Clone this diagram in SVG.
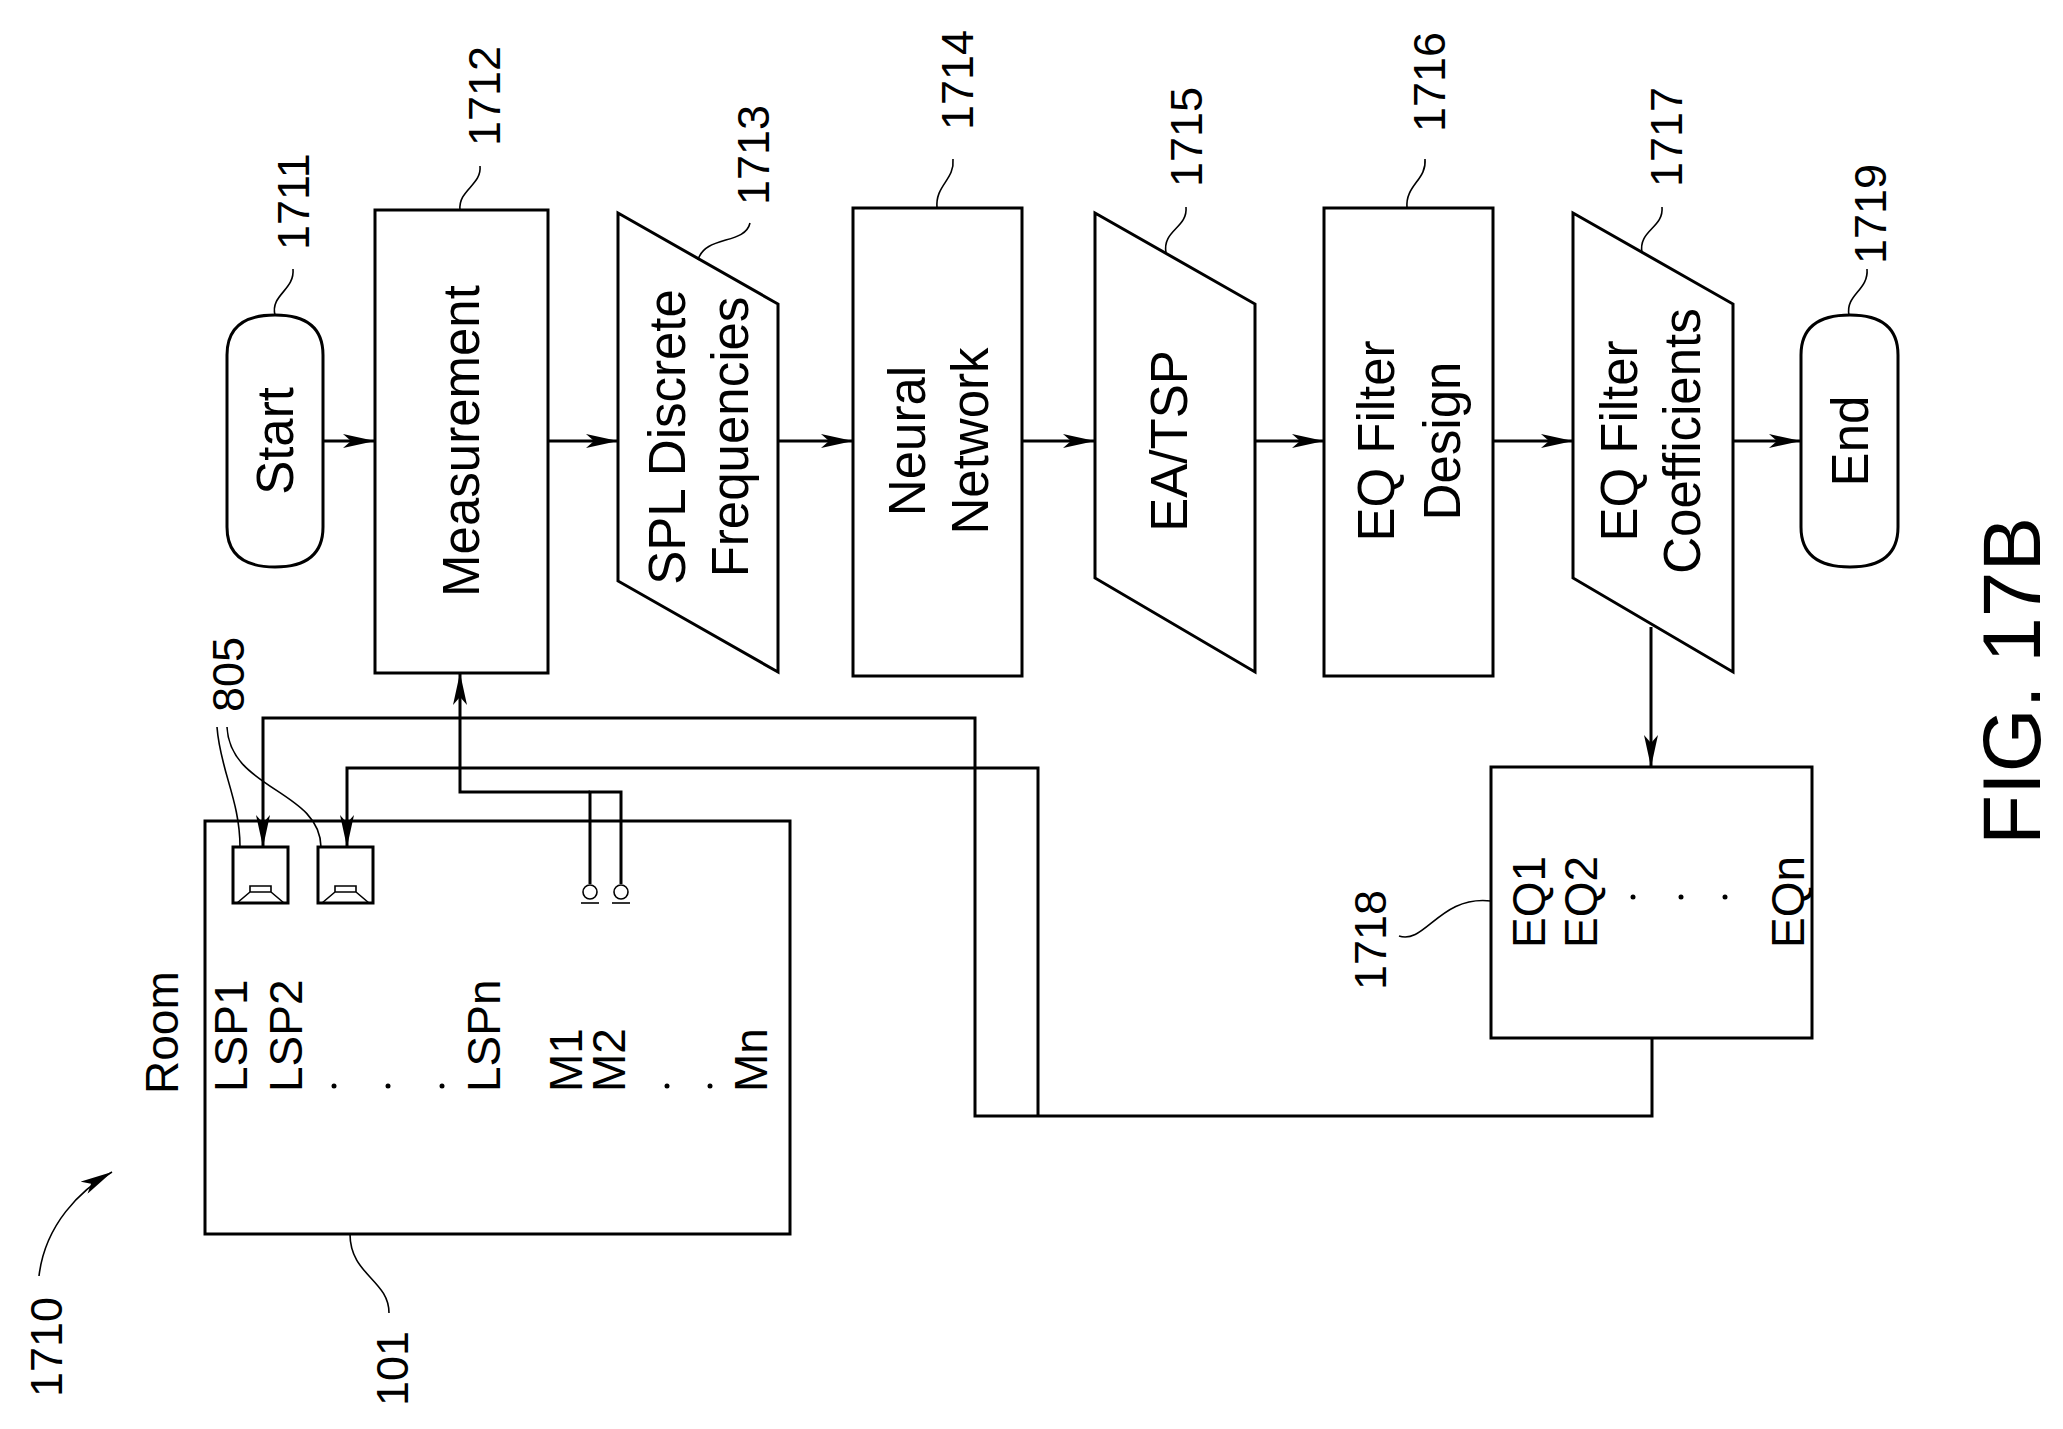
<svg xmlns="http://www.w3.org/2000/svg" width="2063" height="1429" viewBox="0 0 2063 1429">
<style>
.s{fill:#fff;stroke:#000;stroke-width:3}
.c{fill:none;stroke:#000;stroke-width:3}
.l{fill:none;stroke:#000;stroke-width:1.6}
text{font-family:"Liberation Sans",Arial,sans-serif;fill:#000}
.t{font-size:51px;text-anchor:middle}
.n{font-size:45px}
.r{font-size:46px}
</style>
<defs>
<marker id="a" viewBox="0 0 32 14" refX="32" refY="7" markerWidth="32" markerHeight="14" markerUnits="userSpaceOnUse" orient="auto"><path d="M0,0 L32,7 L0,14 L8,7 Z" fill="#000"/></marker>
</defs>
<rect width="2063" height="1429" fill="#fff"/>
<g id="connectors">
<path class="c" d="M323,441 H375" marker-end="url(#a)"/>
<path class="c" d="M548,441 H618" marker-end="url(#a)"/>
<path class="c" d="M778,441 H853" marker-end="url(#a)"/>
<path class="c" d="M1022,441 H1095" marker-end="url(#a)"/>
<path class="c" d="M1255,441 H1324" marker-end="url(#a)"/>
<path class="c" d="M1493,441 H1573" marker-end="url(#a)"/>
<path class="c" d="M1733,441 H1801" marker-end="url(#a)"/>
<path class="c" d="M1651,627 V767" marker-end="url(#a)"/>
<path class="c" d="M1652,1038 V1116 H975 V718 H263 V847" marker-end="url(#a)"/>
<path class="c" d="M1038,1116 V768 H347 V847" marker-end="url(#a)"/>
<path class="c" d="M590,884 V792 H621 V884"/>
<path class="c" d="M590,792 H460 V673" marker-end="url(#a)"/>
</g>
<g id="start"><path class="s" d="M227,355 Q227,315 275,315 Q323,315 323,355 V527 Q323,567 275,567 Q227,567 227,527 Z"/><text class="t" transform="translate(275,441) rotate(-90)" y="18">Start</text></g>
<g id="measurement"><rect class="s" x="375" y="210" width="173" height="463"/><text class="t" transform="translate(461,441) rotate(-90)" y="18">Measurement</text></g>
<g id="spl"><polygon class="s" points="618,213 778,304 778,672 618,581"/><text class="t" transform="translate(667,437) rotate(-90)" y="18">SPL Discrete</text><text class="t" transform="translate(730,437) rotate(-90)" y="18">Frequencies</text></g>
<g id="nn"><rect class="s" x="853" y="208" width="169" height="468"/><text class="t" transform="translate(907,441) rotate(-90)" y="18">Neural</text><text class="t" transform="translate(970,441) rotate(-90)" y="18">Network</text></g>
<g id="eatsp"><polygon class="s" points="1095,213 1255,304 1255,672 1095,578"/><text class="t" transform="translate(1169,441) rotate(-90)" y="18">EA/TSP</text></g>
<g id="eqfd"><rect class="s" x="1324" y="208" width="169" height="468"/><text class="t" transform="translate(1376,441) rotate(-90)" y="18">EQ Filter</text><text class="t" transform="translate(1442,441) rotate(-90)" y="18">Design</text></g>
<g id="eqfc"><polygon class="s" points="1573,213 1733,304 1733,672 1573,578"/><text class="t" transform="translate(1619,441) rotate(-90)" y="18">EQ Filter</text><text class="t" transform="translate(1682,441) rotate(-90)" y="18">Coefficients</text></g>
<g id="end"><path class="s" d="M1801,355 Q1801,315 1850,315 Q1898,315 1898,355 V527 Q1898,567 1850,567 Q1801,567 1801,527 Z"/><text class="t" transform="translate(1850,441) rotate(-90)" y="18">End</text></g>
<g id="eqbox"><rect class="s" x="1491" y="767" width="321" height="271"/>
<text class="r" transform="translate(1545,948) rotate(-90)">EQ1</text>
<text class="r" transform="translate(1597,948) rotate(-90)">EQ2</text>
<circle cx="1633" cy="897" r="2.5"/><circle cx="1681" cy="897" r="2.5"/><circle cx="1725" cy="897" r="2.5"/>
<text class="r" transform="translate(1804,948) rotate(-90)">EQn</text></g>
<g id="room"><rect class="c" x="205" y="821" width="585" height="413"/>
<text class="r" transform="translate(178,1094) rotate(-90)">Room</text>
<text class="r" transform="translate(247,1092) rotate(-90)">LSP1</text>
<text class="r" transform="translate(302,1092) rotate(-90)">LSP2</text>
<circle cx="334" cy="1086" r="2.5"/><circle cx="388" cy="1086" r="2.5"/><circle cx="442" cy="1086" r="2.5"/>
<text class="r" transform="translate(500,1092) rotate(-90)">LSPn</text>
<text class="r" transform="translate(582,1092) rotate(-90)">M1</text>
<text class="r" transform="translate(625,1092) rotate(-90)">M2</text>
<circle cx="667" cy="1086" r="2.5"/><circle cx="710" cy="1086" r="2.5"/>
<text class="r" transform="translate(767,1092) rotate(-90)">Mn</text>
</g>
<g id="speakers">
<rect class="c" x="233" y="847" width="55" height="56" stroke-width="2.5"/>
<path class="l" d="M250,886 h21 v6 h-21 z M250,892 L237,903 M271,892 L284,903" stroke-width="2"/>
<rect class="c" x="318" y="847" width="55" height="56" stroke-width="2.5"/>
<path class="l" d="M335,886 h21 v6 h-21 z M335,892 L322,903 M356,892 L369,903" stroke-width="2"/>
</g>
<g id="mics">
<circle class="l" cx="590" cy="892" r="7" stroke-width="2"/><path class="l" d="M581,903 h18" stroke-width="2"/>
<circle class="l" cx="621" cy="892" r="7" stroke-width="2"/><path class="l" d="M612,903 h18" stroke-width="2"/>
</g>
<g id="labels">
<text class="n" transform="translate(309,250) rotate(-90)">1711</text>
<path class="l" d="M275,315 C270,295 295,290 293,269"/>
<text class="n" transform="translate(500,146) rotate(-90)">1712</text>
<path class="l" d="M460,210 C458,190 482,185 480,166"/>
<text class="n" transform="translate(769,205) rotate(-90)">1713</text>
<path class="l" d="M698,260 C705,235 745,245 750,223"/>
<text class="n" transform="translate(973,130) rotate(-90)">1714</text>
<path class="l" d="M937,208 C935,185 955,180 953,159"/>
<text class="n" transform="translate(1202,187) rotate(-90)">1715</text>
<path class="l" d="M1166,253 C1162,230 1188,228 1186,207"/>
<text class="n" transform="translate(1445,132) rotate(-90)">1716</text>
<path class="l" d="M1407,208 C1405,185 1427,180 1425,159"/>
<text class="n" transform="translate(1682,187) rotate(-90)">1717</text>
<path class="l" d="M1642,253 C1638,230 1664,228 1662,207"/>
<text class="n" transform="translate(1886,264) rotate(-90)">1719</text>
<path class="l" d="M1849,315 C1845,295 1869,290 1867,269"/>
<text class="n" transform="translate(1386,990) rotate(-90)">1718</text>
<path class="l" d="M1399,936 C1425,945 1440,895 1491,901"/>
<text class="n" transform="translate(244,712) rotate(-90)">805</text>
<path class="l" d="M217,727 C220,770 240,800 240,847"/>
<path class="l" d="M227,727 C230,790 320,790 321,847"/>
<text class="n" transform="translate(408,1406) rotate(-90)">101</text>
<path class="l" d="M350,1234 C350,1275 389,1280 389,1313"/>
<text class="n" transform="translate(62,1397) rotate(-90)">1710</text>
<path class="l" d="M39,1276 C45,1225 80,1190 112,1172" marker-end="url(#a)"/>
<text transform="translate(2040,845) rotate(-90)" style="font-size:82px">FIG. 17B</text>
</g>
</svg>
